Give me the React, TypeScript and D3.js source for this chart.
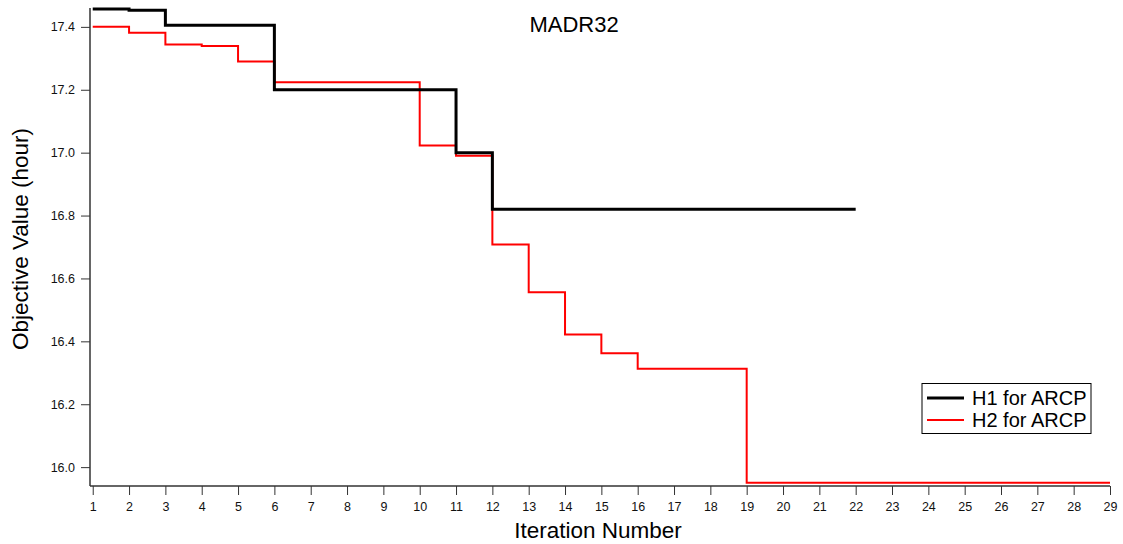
import React, { useRef, useEffect } from "react";
import * as d3 from "d3";

// iteration numbers and objective values
const iterH1 = [1, 2, 3, 4, 5, 6, 7, 8, 9, 10, 11, 12, 13, 14, 15, 16, 17, 18, 19, 20, 21, 22];
const valH1 = [17.457, 17.453, 17.405, 17.405, 17.405, 17.2, 17.2, 17.2, 17.2, 17.2, 17.0, 16.82,
    16.82, 16.82, 16.82, 16.82, 16.82, 16.82, 16.82, 16.82, 16.82, 16.82];
const iterH2 = [1, 2, 3, 4, 5, 6, 7, 8, 9, 10, 11, 12, 13, 14, 15, 16, 17, 18, 19, 20, 21, 22, 23, 24, 25, 26, 27, 28, 29];
const valH2 = [17.4, 17.381, 17.344, 17.339, 17.29, 17.224, 17.224, 17.224, 17.224, 17.023, 16.99, 16.708,
    16.556, 16.422, 16.362, 16.313, 16.313, 16.313, 15.95, 15.95, 15.95, 15.95, 15.95, 15.95, 15.95,
    15.95, 15.95, 15.95, 15.95];
const yTicks = [16.0, 16.2, 16.4, 16.6, 16.8, 17.0, 17.2, 17.4];
const xTicks = d3.range(1, 30);
const seriesNames = ["H1 for ARCP", "H2 for ARCP"];

const width = 1123;
const height = 544;
const font = "'Liberation Sans', Arial, sans-serif";

const App = () => {
    const ref = useRef<SVGSVGElement>(null);

    useEffect(() => {
        const svg = d3.select(ref.current);
        svg.selectAll("*").remove();

        const x = d3.scaleLinear().domain([0.925, 29]).range([90, 1110]);
        const y = d3.scaleLinear().domain([15.94, 17.46]).range([486, 8]);

        // axes
        const gx = svg.append("g").attr("transform", "translate(0,486)");
        gx.call(d3.axisBottom(x).tickValues(xTicks).tickSize(9).tickSizeOuter(0).tickFormat(d3.format("d")));
        gx.select(".domain").attr("d", "M90,0H1110").attr("stroke", "#333").attr("stroke-width", 1.5);
        gx.selectAll(".tick line").attr("stroke", "#333").attr("stroke-width", 1);
        gx.selectAll(".tick text").attr("font-family", font).attr("font-size", 12.5).attr("fill", "#111").attr("dy", "1.05em");

        const gy = svg.append("g").attr("transform", "translate(90,0)");
        gy.call(d3.axisLeft(y).tickValues(yTicks).tickSize(9).tickSizeOuter(0).tickFormat(d3.format(".1f")));
        gy.select(".domain").attr("d", "M0,8V486").attr("stroke", "#333").attr("stroke-width", 1.5);
        gy.selectAll(".tick line").attr("stroke", "#333").attr("stroke-width", 1);
        gy.selectAll(".tick text").attr("font-family", font).attr("font-size", 12.5).attr("fill", "#111").attr("x", -15);

        const line = d3.line<number>()
            .x((d, i) => x(d))
            .curve(d3.curveStepAfter);

        svg.append("path")
            .attr("d", line.y((d, i) => y(valH2[i]))(iterH2))
            .attr("fill", "none")
            .attr("stroke", "#ff0000")
            .attr("stroke-width", 2);

        svg.append("path")
            .attr("d", line.y((d, i) => y(valH1[i]))(iterH1))
            .attr("fill", "none")
            .attr("stroke", "#000")
            .attr("stroke-width", 3);

        // titles
        svg.append("text")
            .attr("x", 574).attr("y", 32)
            .attr("text-anchor", "middle")
            .attr("font-family", font).attr("font-size", 22)
            .text("MADR32");
        svg.append("text")
            .attr("x", 598).attr("y", 538)
            .attr("text-anchor", "middle")
            .attr("font-family", font).attr("font-size", 22.5)
            .text("Iteration Number");
        svg.append("text")
            .attr("transform", "translate(28,239) rotate(-90)")
            .attr("text-anchor", "middle")
            .attr("font-family", font).attr("font-size", 22.5)
            .text("Objective Value (hour)");

        // legend
        const legend = svg.append("g");
        legend.append("rect")
            .attr("x", 922).attr("y", 383.5).attr("width", 169).attr("height", 50)
            .attr("fill", "#fff").attr("stroke", "#000").attr("stroke-width", 1);
        const colors = ["#000", "#ff0000"];
        const widths = [3, 2];
        seriesNames.forEach((name, i) => {
            const ly = 398 + i * 22;
            legend.append("line")
                .attr("x1", 927).attr("x2", 964).attr("y1", ly).attr("y2", ly)
                .attr("stroke", colors[i]).attr("stroke-width", widths[i]);
            legend.append("text")
                .attr("x", 972).attr("y", ly + 7)
                .attr("font-family", font).attr("font-size", 20)
                .text(name);
        });
    }, []);

    return (
        <svg
            ref={ref}
            width={width}
            height={height}
            style={{ position: "absolute", left: 0, top: 0, background: "#fff" }}
        />
    );
};

export default App;
